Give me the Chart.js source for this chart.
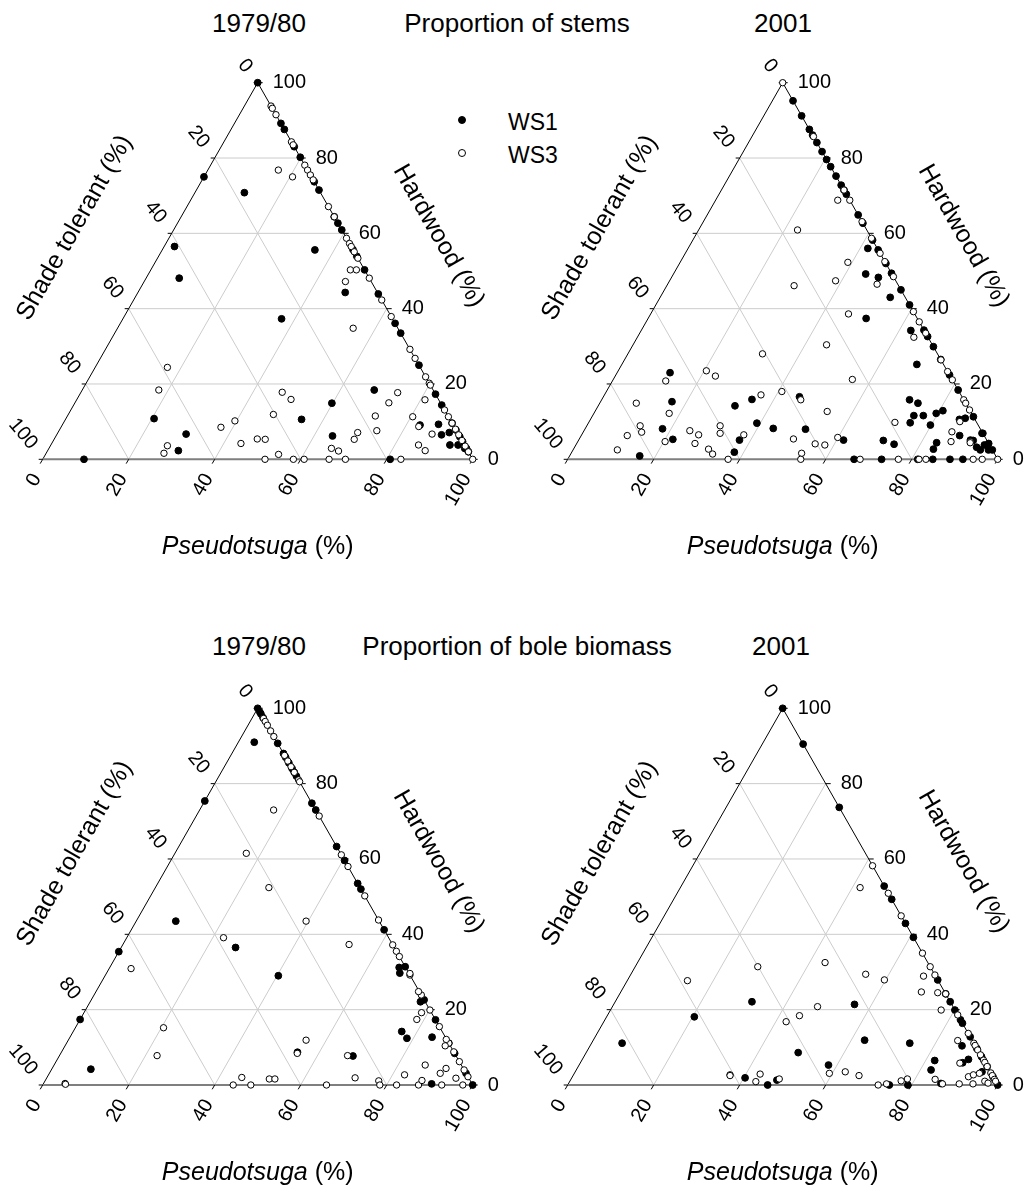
<!DOCTYPE html>
<html>
<head>
<meta charset="utf-8">
<script src="https://cdn.jsdelivr.net/npm/chart.js@4.4.0/dist/chart.umd.min.js"></script>
<style>
  body { margin: 0; background: #fff; font-family: "Liberation Sans", Arial, sans-serif; }
  #page { position: relative; width: 1029px; height: 1191px; overflow: hidden; }
  canvas { position: absolute; }
  .t { position: absolute; font-size: 26px; color: #000; white-space: nowrap; transform: translate(-50%, -50%); }
  .leg { position: absolute; font-size: 23px; color: #000; white-space: nowrap; transform: translateY(-50%); }
  .dot { position: absolute; width: 6px; height: 6px; border-radius: 50%; transform: translate(-50%, -50%); }
</style>
</head>
<body>
<div id="page">
  <div class="t" style="left:259px;top:23px">1979/80</div>
  <div class="t" style="left:517px;top:23px">Proportion of stems</div>
  <div class="t" style="left:783px;top:23px">2001</div>
  <div class="t" style="left:259px;top:646px">1979/80</div>
  <div class="t" style="left:517px;top:646px">Proportion of bole biomass</div>
  <div class="t" style="left:781px;top:646px">2001</div>

  <div class="dot" style="left:462px;top:120px;background:#000;border:1px solid #000;"></div>
  <div class="leg" style="left:508px;top:122px">WS1</div>
  <div class="dot" style="left:462px;top:153px;background:#fff;border:1px solid #000;"></div>
  <div class="leg" style="left:508px;top:155px">WS3</div>

  <canvas id="c1" width="520" height="540" style="left:0;top:40px"></canvas>
  <canvas id="c2" width="509" height="540" style="left:520px;top:40px"></canvas>
  <canvas id="c3" width="520" height="551" style="left:0;top:640px"></canvas>
  <canvas id="c4" width="509" height="551" style="left:520px;top:640px"></canvas>
</div>
<script>
// each point is [Pseudotsuga %, Hardwood %]; Shade tolerant = 100 - both
const gridValues = [20, 40, 60, 80];
const tickValues = [0, 20, 40, 60, 80, 100];

// Proportion of stems, 1979/80
const stemsOldWS1 = [
  [0,100],[10.8,89.2],[12.4,87.6],[17,83],[19.8,80.2],[26.3,73.7],[28.5,71.5],[35.6,64.4],[37.3,62.7],[39.1,60.9],
  [44.3,55.7],[46.1,53.9],[49.7,50.3],[56.1,43.9],[63.9,36.1],[66.5,33.5],[75,25],[82.7,17.3],[85.6,14.4],[90.4,9.6],
  [92.2,7.8],[94,6],[95.3,4.7],[97.1,2.9],[98,2],
  [0,75],[11.5,70.8],[35.5,55.6],[2.4,56.5],[7.7,48.1],[36.9,37.3],[48.2,44.3],[20.5,10.8],[30,6.7],[30.4,2.3],
  [9.6,0],[67.9,18.4],[59.8,14.9],[54.9,10.6],[64.3,6.2],[80.8,0],[83.2,9.1],[87.4,9.3],[89.5,6.5],[91,7.1],
  [92.8,3.8],[94.7,3.8],[96.7,2.9]
];
const stemsOldWS3 = [
  [6.2,93.8],[6.8,93.2],[8.5,91.5],[15.7,84.3],[16.5,83.5],[21.9,78.1],[23.2,76.8],[24.5,75.5],[25.8,74.2],[32.9,67.1],
  [35.6,64.4],[41.3,58.7],[42.7,57.3],[43.5,56.5],[44.9,55.1],[46.6,53.4],[51.9,48.1],[57.7,42.3],[62.1,37.9],[70.8,29.2],
  [73.2,26.8],[78.1,21.9],[79.8,20.2],[80.3,19.7],[86.9,13.1],[88.7,11.3],[90.4,9.6],[92,8],[93.5,6.5],[95,5],
  [96.5,3.5],[98,2],[100,0],
  [16.4,76.8],[20.6,75],[46.4,50.3],[47.8,50.3],[46.8,47.2],[54.8,34.8],[16.8,24.4],[17.8,18.4],[39.6,10.2],[37.2,8.5],
  [47.7,11.9],[46.8,17.8],[49.8,15.9],[44,4.2],[47.2,5.4],[49.1,5.3],[54.2,1.3],[51.7,0],[58.3,0],[60.8,0],
  [66.6,0],[70.4,0],[65.7,2.9],[67.7,2.2],[69.7,7.1],[69.8,5.3],[73.9,7.6],[71.6,11.5],[73,15],[73.7,17.7],
  [83.3,0],[80.4,11.3],[85.5,3.8],[87.8,2.3],[81,15.8],[87.2,6.7],[27.4,1.6],[27.2,3.6],[83.1,8.7]
];

// Proportion of stems, 2001
const stemsNewWS1 = [
  [4.8,95.2],[8.8,91.2],[12.4,87.6],[13.9,86.1],[15.9,84.1],[18.3,81.7],[20.4,79.6],[22.3,77.7],[24.8,75.2],[27.2,72.8],
  [28.5,71.5],[29.6,70.4],[35.1,64.9],[37.3,62.7],[41.8,58.2],[44.4,55.6],[48,52],[50.6,49.4],[55,45],[59,41],
  [65.7,34.3],[67.4,32.6],[70.1,29.9],[73.5,26.5],[77.6,22.4],[81.6,18.4],[88.7,11.3],[93.1,6.9],[95.8,4.2],[97.5,2.5],
  [41.8,56],[44.7,49.2],[48.1,48.3],[53.5,43],[50.7,37.4],[62.7,34.2],[68.6,25.2],[12.3,23],[16.6,15.3],[18,8.1],
  [21.8,5.3],[16.3,0.9],[31.8,14.2],[34.9,15.9],[39.2,9.6],[37.4,5.1],[37.8,1.9],[43.7,8.2],[45.6,16.6],[51.3,8],
  [61.6,5.1],[66.6,0],[73,0],[81.4,0],[84.9,0],[88.9,0],[91.9,0],[70.9,5],[73.9,4],[71.6,15.8],
  [74,14.9],[74.7,11.6],[76.9,11.6],[74.8,9.7],[79.8,9.1],[79.6,12.2],[80.8,12.9],[85.8,10.6],[87,10.9],[88,6.3],
  [83.6,4.4],[83.7,2.7],[91.8,5],[92.9,6.9],[95,3.8],[96.6,2.5],[94.7,2.5],[91.1,5.1],[93.5,3.2]
];
const stemsNewWS3 = [
  [0,100],[14.3,85.7],[28.5,71.5],[31.2,68.8],[36.9,63.1],[41.3,58.7],[45.3,54.7],[47.5,52.5],[51.5,48.5],[60.8,39.2],
  [63.5,36.5],[66.5,33.5],[73.6,26.4],[76.7,23.3],[78.9,21.1],[84.2,15.8],[85.1,14.9],[86.9,13.1],[100,0],
  [28.4,68.8],[23,60.9],[39,52.3],[38.6,47.4],[48.7,46.5],[29.6,46.1],[46,38.6],[45,30.4],[31.3,28],[55.6,21.2],
  [64.3,32.4],[20.5,23.5],[23.3,22.1],[12.4,20.8],[8.5,14.9],[17.5,12.2],[12.4,8.9],[13.6,7.2],[10.7,6.3],[10.3,2.5],
  [20.3,4.7],[24.6,7.6],[27.2,6.5],[27.5,4.2],[31.4,2.7],[33,1.4],[31,8.9],[32,6.9],[37.3,0],[37.7,6.5],
  [36.4,17.1],[40.8,18],[46.3,15.8],[49.8,5.4],[53.6,1.6],[54.2,0],[55.5,4.1],[57.9,3.8],[54,12.7],[59.9,5.8],
  [68,0],[71.2,9.8],[76.9,0],[81.7,0],[83.3,0],[85.7,7.3],[86.8,4.7],[94.3,0],[96.4,0],[91.3,4.7],
  [86.2,10],[91.4,4.4]
];

// Proportion of bole biomass, 1979/80
const boleOldWS1 = [
  [0,100],[1,99],[1.5,98.5],[2.5,97.5],[9.3,90.7],[12,88],[13,87],[14.5,85.5],[16,84],[17,83],
  [18,82],[25.2,74.8],[27,73],[36.7,63.3],[40.4,59.6],[46.5,53.5],[48,52],[58.8,41.2],[68.6,31.4],[77.4,22.6],
  [82.7,17.3],[88.9,11.1],[91.6,8.4],[96.9,3.1],[100,0],
  [3.7,91],[0,75.4],[9.2,43.5],[0,35.4],[26.6,36.5],[40.3,29],[0,17.4],[9.1,4.2],[54.9,8.7],[68.3,7.7],
  [76.4,14.2],[78.5,12.4],[84.2,12.7],[76.8,22.1],[67.3,31.2],[68.2,29.7],[90.3,0.3]
];
const boleOldWS3 = [
  [2.7,97.3],[3.5,96.5],[4.5,95.5],[6,94],[7.5,92.5],[12.5,87.5],[14,86],[15.5,84.5],[17,83],[19,81],
  [19.5,80.5],[28.6,71.4],[38.9,61.1],[42,58],[49.8,50.2],[56.2,43.8],[62.8,37.2],[64.5,35.5],[65.9,34.1],[70.8,29.2],
  [76.1,23.9],[80.1,19.9],[84.5,15.5],[88.9,11.1],[91.2,8.8],[93.8,6.2],[96,4],[97.8,2.2],
  [17.2,73],[16.6,61.5],[26.4,52.4],[39.5,43.5],[22.5,39.1],[52.6,37.3],[70.6,29.6],[5.1,30.9],[20.5,15.2],[22.7,7.8],
  [55.3,11.9],[55,8.4],[67,7.8],[45.3,2],[44.3,0],[48.4,0],[51.9,1.6],[53.2,1.6],[66,0],[71.7,1.9],
  [77.6,1.1],[78.4,0],[82.3,0],[82.8,2.7],[87.4,0],[87.6,1.2],[86.3,5.3],[78.3,17.4],[78.5,19.2],[75,24.8],
  [92.8,0],[90.9,3.1],[91.6,4.4],[88.4,10.4],[87.8,12.1],[95.2,1.8],[97.7,0],[5,0.4],[5.2,0.2]
];

// Proportion of bole biomass, 2001
const boleNewWS1 = [
  [0,100],[9.5,90.5],[26.3,73.7],[47.2,52.8],[50.7,49.3],[57.1,42.9],[60.8,39.2],[72.1,27.9],[75.8,24.2],[77.9,22.1],
  [80.1,19.9],[82.7,17.3],[83.6,16.4],[87.2,12.8],[90.3,9.7],[92.5,7.5],[95.1,4.9],[97.8,2.2],[100,0],
  [20.4,18.1],[31.8,22.1],[7.1,11.1],[49.3,8.6],[56,21.4],[63.1,11.9],[74,11.1],[58,5.3],[40.3,1.9],[46.5,0],
  [48,1.3],[74.8,0],[79.1,0],[82.1,6.5],[82.5,4],[86.6,0.4],[86.5,10.4],[89.8,6.8],[88.9,5.9],[94.6,3.5]
];
const boleNewWS3 = [
  [41.8,58.2],[49.1,50.9],[55.1,44.9],[65,35],[68.6,31.4],[70.8,29.2],[75.8,24.2],[81.4,18.6],[86.3,13.7],[88.9,11.1],
  [89.5,10.5],[90.7,9.3],[92,8],[93.4,6.6],[94,6],[95.1,4.9],[96.8,3.2],[97.5,2.5],[98.5,1.5],[99,1],
  [41.8,52.4],[28.5,31.4],[43.6,32.5],[54.6,29.4],[59.7,27.9],[14,27.7],[68.3,28.9],[69.9,24.7],[73.8,24.5],[76.9,19.9],
  [47.7,20.8],[44.7,18.4],[42.4,16.8],[36.4,2.7],[36.5,2.5],[43.3,2.9],[43.3,0.9],[48.4,1.6],[59.3,3.1],[62.8,3.5],
  [66.5,2.5],[72.2,0],[74,0.3],[77,1.1],[78.2,1.6],[84.7,1.5],[87,0.3],[90.9,0.3],[84.8,11.8],[88.3,5.8],
  [92.1,2.2],[93,2.7],[94.2,3.1],[94.1,0.3],[96.5,1],[97.5,0.5]
];

const FONT = '"Liberation Sans", Arial, sans-serif';

// ternary -> scale values: x = P + H/2, y = H
function tp(chart, p, h) {
  return {
    x: chart.scales.x.getPixelForValue(p + h / 2),
    y: chart.scales.y.getPixelForValue(h)
  };
}

function seg(ctx, a, b) {
  ctx.beginPath();
  ctx.moveTo(a.x, a.y);
  ctx.lineTo(b.x, b.y);
  ctx.stroke();
}

function rotText(ctx, text, x, y, angle, align) {
  ctx.save();
  ctx.translate(x, y);
  ctx.rotate(angle);
  ctx.textAlign = align;
  ctx.textBaseline = 'middle';
  ctx.fillText(text, 0, 0);
  ctx.restore();
}

const ternaryPlugin = {
  id: 'ternary',
  beforeDatasetsDraw(chart) {
    const ctx = chart.ctx;
    ctx.save();
    ctx.lineWidth = 1;
    ctx.strokeStyle = '#cccccc';
    gridValues.forEach((k) => {
      seg(ctx, tp(chart, 0, k), tp(chart, 100 - k, k));
      seg(ctx, tp(chart, k, 0), tp(chart, k, 100 - k));
      seg(ctx, tp(chart, 100 - k, 0), tp(chart, 0, 100 - k));
    });

    // frame
    ctx.strokeStyle = '#000';
    seg(ctx, tp(chart, 0, 0), tp(chart, 0, 100));
    seg(ctx, tp(chart, 100, 0), tp(chart, 0, 100));
    ctx.strokeStyle = '#7f7f7f';
    ctx.lineWidth = 2;
    seg(ctx, tp(chart, 0, 0), tp(chart, 100, 0));

    // ticks
    ctx.strokeStyle = '#000';
    ctx.lineWidth = 1;
    tickValues.forEach((k) => {
      const l = tp(chart, 0, k);
      seg(ctx, l, { x: l.x - 4, y: l.y });
      const r = tp(chart, 100 - k, k);
      seg(ctx, r, { x: r.x + 5, y: r.y });
      const b = tp(chart, k, 0);
      seg(ctx, b, { x: b.x - 2.5, y: b.y + 4.3 });
    });

    // tick labels
    ctx.fillStyle = '#000';
    ctx.font = '20px ' + FONT;
    tickValues.forEach((k) => {
      const r = tp(chart, 100 - k, k);
      rotText(ctx, String(k), r.x + 15, r.y, 0, 'left');
      const l = tp(chart, 0, 100 - k);
      rotText(ctx, String(k), l.x - 9, l.y - 12.5, 50 * Math.PI / 180, 'right');
      const b = tp(chart, k, 0);
      rotText(ctx, String(k), b.x - 6, b.y + 16, -60 * Math.PI / 180, 'right');
    });

    // axis titles
    ctx.font = '25px ' + FONT;
    const a0 = tp(chart, 0, 0), a1 = tp(chart, 0, 100), a2 = tp(chart, 100, 0);
    let dx = a1.x - a0.x, dy = a1.y - a0.y, len = Math.hypot(dx, dy);
    let ux = dx / len, uy = dy / len;
    let m = tp(chart, 0, 50);
    rotText(ctx, 'Shade tolerant (%)', m.x + uy * 87, m.y - ux * 87, Math.atan2(uy, ux), 'center');

    dx = a2.x - a1.x; dy = a2.y - a1.y; len = Math.hypot(dx, dy);
    ux = dx / len; uy = dy / len;
    m = tp(chart, 50, 50);
    rotText(ctx, 'Hardwood (%)', m.x + uy * 81 + ux * 6, m.y - ux * 81 + uy * 6, Math.atan2(uy, ux), 'center');

    m = tp(chart, 50, 0);
    ctx.font = 'italic 25px ' + FONT;
    const w1 = ctx.measureText('Pseudotsuga').width;
    ctx.font = '25px ' + FONT;
    const w2 = ctx.measureText(' (%)').width;
    const x0 = m.x - (w1 + w2) / 2, y0 = m.y + 88;
    ctx.textBaseline = 'middle';
    ctx.textAlign = 'left';
    ctx.font = 'italic 25px ' + FONT;
    ctx.fillText('Pseudotsuga', x0, y0);
    ctx.font = '25px ' + FONT;
    ctx.fillText(' (%)', x0 + w1, y0);
    ctx.restore();
  }
};

function toXY(list) {
  return list.map(([p, h]) => ({ x: p + h / 2, y: h }));
}

function makePanel(id, ws1, ws3, pad) {
  return new Chart(document.getElementById(id), {
    type: 'scatter',
    data: {
      datasets: [
        {
          label: 'WS3',
          data: toXY(ws3),
          pointRadius: 3.2,
          pointBackgroundColor: '#fff',
          pointBorderColor: '#000',
          pointBorderWidth: 1,
          order: 1,
          clip: false
        },
        {
          label: 'WS1',
          data: toXY(ws1),
          pointRadius: 3.4,
          pointBackgroundColor: '#000',
          pointBorderColor: '#000',
          pointBorderWidth: 1,
          order: 2,
          clip: false
        }
      ]
    },
    options: {
      responsive: false,
      animation: false,
      events: [],
      layout: { padding: pad },
      plugins: { legend: { display: false }, tooltip: { enabled: false } },
      scales: {
        x: { type: 'linear', min: 0, max: 100, display: false },
        y: { type: 'linear', min: 0, max: 100, display: false }
      }
    },
    plugins: [ternaryPlugin]
  });
}

makePanel('c1', stemsOldWS1, stemsOldWS3, { left: 42.7, top: 42.7, right: 47.3, bottom: 120.7 });
makePanel('c2', stemsNewWS1, stemsNewWS3, { left: 47.7, top: 42.7, right: 31.3, bottom: 120.7 });
makePanel('c3', boleOldWS1, boleOldWS3, { left: 42.7, top: 68.3, right: 47.3, bottom: 106 });
makePanel('c4', boleNewWS1, boleNewWS3, { left: 47.7, top: 68.3, right: 31.3, bottom: 106 });
</script>
</body>
</html>
